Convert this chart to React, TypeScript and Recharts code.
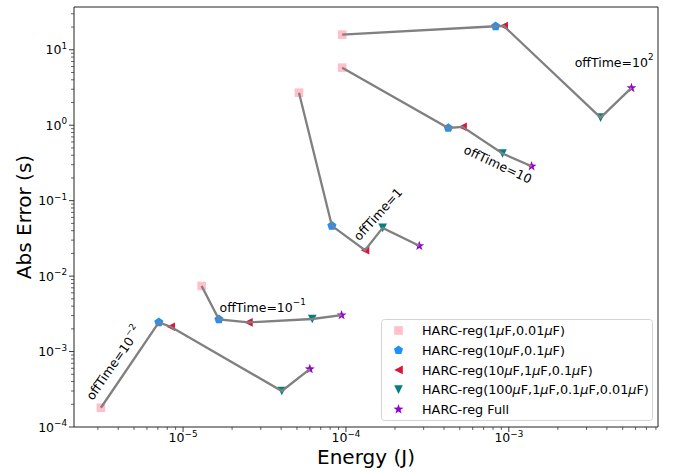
import React from "react";
import {
  Legend,
  ReferenceArea,
  ReferenceDot,
  Scatter,
  ScatterChart,
  XAxis,
  YAxis,
} from "recharts";

// one entry per offTime: 10^-2, 10^-1, 1, 10, 10^2
const offTimes = ["10^−2", "10^−1", "1", "10", "10^2"];

const energy1uF = [3.13e-6, 1.3e-5, 5.15e-5, 9.49e-5, 9.49e-5];
const error1uF = [1.8e-4, 7.4e-3, 2.7, 5.8, 15.9];
const energy10uF = [7.1e-6, 1.66e-5, 8.2e-5, 4.25e-4, 8.3e-4];
const error10uF = [2.44e-3, 2.67e-3, 0.0464, 0.92, 20.5];
const energy10uF1uF = [8.4e-6, 2.52e-5, 1.31e-4, 5.2e-4, 9.3e-4];
const error10uF1uF = [2.13e-3, 2.44e-3, 0.0221, 0.95, 20.7];
const energy100uF = [4.04e-5, 6.21e-5, 1.68e-4, 9.15e-4, 3.66e-3];
const error100uF = [3.0e-4, 2.7e-3, 0.0436, 0.421, 1.26];
const energyFull = [6.0e-5, 9.4e-5, 2.82e-4, 1.38e-3, 5.66e-3];
const errorFull = [5.86e-4, 3.04e-3, 0.0252, 0.286, 3.12];

const seriesNames = [
  "HARC-reg(1μF,0.01μF)",
  "HARC-reg(10μF,0.1μF)",
  "HARC-reg(10μF,1μF,0.1μF)",
  "HARC-reg(100μF,1μF,0.1μF,0.01μF)",
  "HARC-reg Full",
];
const seriesColors = ["#FFC0CB", "#1E90FF", "#DC143C", "#008080", "#9400D3"];
const seriesMarkers = ["square", "pentagon", "left", "down", "star"];
const seriesEnergy = [energy1uF, energy10uF, energy10uF1uF, energy100uF, energyFull];
const seriesError = [error1uF, error10uF, error10uF1uF, error100uF, errorFull];

// annotation anchors (text centre) and rotation
const annEnergy = [3.75e-6, 3.08e-5, 1.57e-4, 8.57e-4, 4.43e-3];
const annError = [7.05e-4, 3.8e-3, 0.0662, 0.304, 6.82];
const annAngle = [-55, 0, -48, 25, 0];

const xDomain = [2.14e-6, 8.24e-3];
const yDomain = [1e-4, 36.9];
const xMajor = [1e-5, 1e-4, 1e-3];
const yMajor = [1e-4, 1e-3, 1e-2, 1e-1, 1, 10];
const minorMult = [2, 3, 4, 5, 6, 7, 8, 9];

const withMinors = (majors: number[], dom: number[]) => {
  const decades = [majors[0] / 10, ...majors];
  const out: number[] = [];
  decades.forEach((d) => {
    out.push(d);
    minorMult.forEach((m) => out.push(d * m));
  });
  return out.filter((v) => v >= dom[0] && v <= dom[1]);
};
const xTicks = withMinors(xMajor, xDomain);
const yTicks = withMinors(yMajor, yDomain);

const FONT = "DejaVu Sans, sans-serif";
const AXIS = "#222";

const isMajor = (v: number) => Math.abs(Math.log10(v) - Math.round(Math.log10(v))) < 1e-6;
const expLabel = (v: number) => {
  const e = Math.round(Math.log10(v));
  return e < 0 ? `−${-e}` : `${e}`;
};

function Marker({ kind, cx, cy, color }: { kind: string; cx: number; cy: number; color: string }) {
  const s = 4.3;
  if (kind === "square")
    return <rect x={cx - s} y={cy - s} width={2 * s} height={2 * s} fill={color} />;
  if (kind === "pentagon") {
    const pts = [0, 1, 2, 3, 4]
      .map((k) => {
        const a = ((-90 + 72 * k) * Math.PI) / 180;
        return `${cx + 4.8 * Math.cos(a)},${cy + 4.8 * Math.sin(a)}`;
      })
      .join(" ");
    return <polygon points={pts} fill={color} />;
  }
  if (kind === "left")
    return (
      <polygon points={`${cx - s},${cy} ${cx + s},${cy - s} ${cx + s},${cy + s}`} fill={color} />
    );
  if (kind === "down")
    return (
      <polygon points={`${cx},${cy + s} ${cx - s},${cy - s} ${cx + s},${cy - s}`} fill={color} />
    );
  const pts = Array.from({ length: 10 }, (_, k) => {
    const r = k % 2 === 0 ? 5.2 : 2.1;
    const a = ((-90 + 36 * k) * Math.PI) / 180;
    return `${cx + r * Math.cos(a)},${cy + r * Math.sin(a)}`;
  }).join(" ");
  return <polygon points={pts} fill={color} />;
}

function XTick(props: any) {
  const { x, y, payload } = props;
  const major = isMajor(payload.value);
  return (
    <g>
      <line x1={x} x2={x} y1={y} y2={y + (major ? 5 : 3)} stroke={AXIS} strokeWidth={major ? 0.9 : 0.7} />
      {major && (
        <text x={x} y={y + 15} textAnchor="middle" fontSize={12.5} fontFamily={FONT} fill="#000">
          10
          <tspan dy={-5.5} fontSize={8.8}>
            {expLabel(payload.value)}
          </tspan>
        </text>
      )}
    </g>
  );
}

function YTick(props: any) {
  const { x, y, payload } = props;
  const major = isMajor(payload.value);
  return (
    <g>
      <line x1={x} x2={x - (major ? 5 : 3)} y1={y} y2={y} stroke={AXIS} strokeWidth={major ? 0.9 : 0.7} />
      {major && (
        <text x={x - 7} y={y + 4.5} textAnchor="end" fontSize={12.5} fontFamily={FONT} fill="#000">
          10
          <tspan dy={-5.5} fontSize={8.8}>
            {expLabel(payload.value)}
          </tspan>
        </text>
      )}
    </g>
  );
}

function MuText({ text }: { text: string }) {
  const parts = text.split("μ");
  return (
    <>
      {parts.map((p, i) => (
        <React.Fragment key={i}>
          {i > 0 && <tspan fontStyle="italic">μ</tspan>}
          <tspan>{p}</tspan>
        </React.Fragment>
      ))}
    </>
  );
}

function LegendBox() {
  return (
    <svg width={272} height={102} style={{ display: "block" }}>
      <rect x={0.5} y={0.5} width={271} height={101} rx={3} fill="rgba(255,255,255,0.85)" stroke="#d4d4d4" />
      {seriesNames.map((name, i) => {
        const cy = 11.5 + 19.7 * i;
        return (
          <g key={name}>
            <Marker kind={seriesMarkers[i]} cx={17.5} cy={cy} color={seriesColors[i]} />
            <text x={41} y={cy + 4.6} fontSize={12.8} fontFamily={FONT} fill="#000">
              <MuText text={name} />
            </text>
          </g>
        );
      })}
    </svg>
  );
}

function Annotation(props: any) {
  const { cx, cy, idx } = props;
  const [base, sup] = offTimes[idx].split("^");
  return (
    <text
      x={cx}
      y={cy}
      textAnchor="middle"
      dominantBaseline="central"
      fontSize={12.5}
      fontFamily={FONT}
      fill="#000"
      transform={`rotate(${annAngle[idx]} ${cx} ${cy})`}
    >
      offTime={base}
      {sup && (
        <tspan dy={-5.5} fontSize={8.8}>
          {sup}
        </tspan>
      )}
    </text>
  );
}

export default function App() {
  const markerData = seriesEnergy.map((en, i) => en.map((x, j) => ({ x, y: seriesError[i][j] })));
  const lineData = offTimes.map((_, j) => seriesEnergy.map((en, i) => ({ x: en[j], y: seriesError[i][j] })));

  return (
    <div style={{ position: "absolute", left: 0, top: 0, background: "#fff" }}>
      <ScatterChart width={678} height={473} margin={{ top: 7, right: 20, bottom: 0, left: 14 }}>
        <XAxis
          dataKey="x"
          type="number"
          scale="log"
          domain={xDomain}
          allowDataOverflow
          ticks={xTicks}
          interval={0}
          tick={<XTick />}
          tickSize={0}
          tickMargin={0}
          tickLine={false}
          axisLine={false}
          height={46}
          label={(p: any) => {
            const vb = p.viewBox || { x: 74, y: 427, width: 584 };
            return (
              <text x={vb.x + vb.width / 2} y={464} textAnchor="middle" fontSize={20} fontFamily={FONT} fill="#000">
                Energy (J)
              </text>
            );
          }}
        />
        <YAxis
          dataKey="y"
          type="number"
          scale="log"
          domain={yDomain}
          allowDataOverflow
          ticks={yTicks}
          interval={0}
          tick={<YTick />}
          tickSize={0}
          tickMargin={0}
          tickLine={false}
          axisLine={false}
          width={60}
          label={(p: any) => {
            const vb = p.viewBox || { y: 7, height: 420 };
            const cy = vb.y + vb.height / 2;
            return (
              <text
                x={24}
                y={cy}
                textAnchor="middle"
                dominantBaseline="central"
                fontSize={20}
                fontFamily={FONT}
                fill="#000"
                transform={`rotate(-90 24 ${cy})`}
              >
                Abs Error (s)
              </text>
            );
          }}
        />
        <ReferenceArea
          x1={xDomain[0]}
          x2={xDomain[1]}
          y1={yDomain[0]}
          y2={yDomain[1]}
          fill="none"
          fillOpacity={0}
          stroke={AXIS}
          strokeWidth={1}
        />
        {markerData.map((d, i) => (
          <Scatter
            key={seriesNames[i]}
            name={seriesNames[i]}
            data={d}
            isAnimationActive={false}
            shape={(p: any) => <Marker kind={seriesMarkers[i]} cx={p.cx} cy={p.cy} color={seriesColors[i]} />}
          />
        ))}
        {lineData.map((d, j) => (
          <Scatter
            key={`line-${j}`}
            data={d}
            isAnimationActive={false}
            legendType="none"
            line={{ stroke: "#808080", strokeWidth: 2.3 }}
            lineType="joint"
            shape={() => <g />}
          />
        ))}
        {annEnergy.map((x, i) => (
          <ReferenceDot
            key={`ann-${i}`}
            x={x}
            y={annError[i]}
            r={1}
            shape={(p: any) => <Annotation cx={p.cx} cy={p.cy} idx={i} />}
          />
        ))}
        <Legend
          layout="vertical"
          align="center"
          verticalAlign="middle"
          content={() => <LegendBox />}
          wrapperStyle={{ left: 381, top: 319, width: 272, height: 102 }}
        />
      </ScatterChart>
    </div>
  );
}
